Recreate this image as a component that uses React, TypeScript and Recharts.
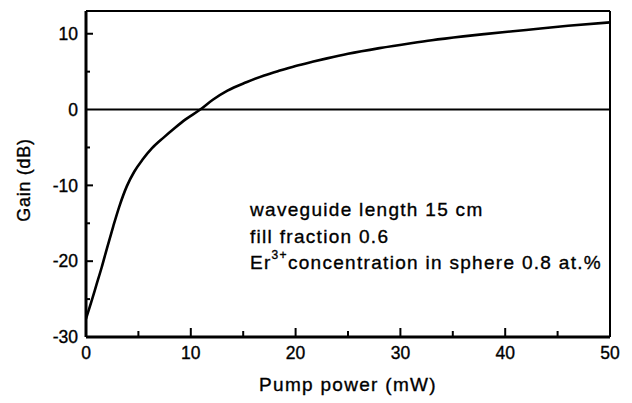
import { LineChart, Line, XAxis, YAxis, ReferenceLine, Customized } from "recharts"

// pump power (mW) vs. net gain (dB)
const powerMw = [0, 0.5, 1, 1.5, 2, 2.6, 3.2, 3.9, 4.6, 5.4, 6.3, 7.4, 8.5, 9.5, 10.9, 12.1, 13.5, 15.3, 17, 18.5, 20, 21.6, 23, 25, 28, 31, 33, 36, 38, 42, 46, 50]
const gainDb = [-27.6, -25.4, -23.1, -20.8, -18.3, -15.4, -12.7, -10.1, -8.2, -6.6, -5.1, -3.7, -2.4, -1.3, 0, 1.3, 2.5, 3.6, 4.5, 5.15, 5.75, 6.3, 6.75, 7.35, 8.1, 8.75, 9.15, 9.65, 9.95, 10.5, 11.05, 11.5]

// every 5 units; multiples of 10 get a label and a longer mark
const xTicks = [0, 5, 10, 15, 20, 25, 30, 35, 40, 45, 50]
const yTicks = [-30, -25, -20, -15, -10, -5, 0, 5, 10]

const notes = ["waveguide length 15 cm", "fill fraction 0.6"]

const data = powerMw.map((p, i) => ({ power: p, gain: gainDb[i] }))

const font = "'Liberation Sans', Arial, sans-serif"
const ink = { stroke: "#000", strokeWidth: 2 }
const labelStyle = { fontFamily: font, fontSize: 17.5, fill: "#000", stroke: "#000", strokeWidth: 0.35 }
const X_GAP = 10
const Y_GAP = 8

const isMajor = (v: number) => v % 10 === 0

function XTick({ x, y, payload }: any) {
  const v = payload.value
  const axisY = y - X_GAP
  const inner = v > 0 && v < 50
  return (
    <g>
      {inner && <line x1={x} x2={x} y1={axisY} y2={axisY - (isMajor(v) ? 9 : 6)} {...ink} />}
      {isMajor(v) && (
        <text x={x} y={y} dy="0.71em" textAnchor="middle" {...labelStyle}>
          {v}
        </text>
      )}
    </g>
  )
}

function YTick({ x, y, payload }: any) {
  const v = payload.value
  const axisX = x + Y_GAP
  const inner = v > -30 && v !== 0
  return (
    <g>
      {inner && <line x1={axisX} x2={axisX + (isMajor(v) ? 7 : 4)} y1={y} y2={y} {...ink} />}
      {isMajor(v) && (
        <text x={x} y={y} dy="0.355em" textAnchor="end" {...labelStyle}>
          {v}
        </text>
      )}
    </g>
  )
}

const NoLabel = () => <g />

function Annotations() {
  return (
    <g fontFamily={font} fill="#000" stroke="#000" strokeWidth={0.35}>
      <text x={24} y={180} fontSize={18} letterSpacing={0.7} textAnchor="middle" transform="rotate(-90 24 180)" dy="0.35em">
        Gain (dB)
      </text>
      <text x={348} y={391} fontSize={19} letterSpacing={1.3} textAnchor="middle">
        Pump power (mW)
      </text>
      {notes.map((t, i) => (
        <text key={t} x={250} y={216 + i * 27} fontSize={19} letterSpacing={1.3}>
          {t}
        </text>
      ))}
      <text x={250} y={269} fontSize={19} letterSpacing={1.3}>
        Er
        <tspan fontSize={12} dy={-10}>3+</tspan>
        <tspan dy={10}>concentration in sphere 0.8 at.%</tspan>
      </text>
    </g>
  )
}

export default function App() {
  return (
    <div style={{ position: "absolute", left: 0, top: 0, background: "#fff" }}>
      <LineChart width={632} height={403} data={data} margin={{ top: 10, right: 21, bottom: 12, left: 26 }}>
        <XAxis
          dataKey="power"
          type="number"
          domain={[0, 50]}
          ticks={xTicks}
          interval={0}
          allowDataOverflow
          height={54}
          tickSize={0}
          tickMargin={X_GAP}
          tick={XTick}
          tickLine={false}
          axisLine={{ stroke: "#000", strokeWidth: 3 }}
        />
        <XAxis xAxisId="top" orientation="top" type="number" domain={[0, 50]} height={1} tick={NoLabel} tickLine={false} axisLine={ink} />
        <YAxis
          type="number"
          domain={[-30, 13]}
          ticks={yTicks}
          interval={0}
          allowDataOverflow
          width={60}
          tickSize={0}
          tickMargin={Y_GAP}
          tick={YTick}
          tickLine={false}
          axisLine={{ stroke: "#000", strokeWidth: 3 }}
        />
        <YAxis yAxisId="right" orientation="right" type="number" domain={[-30, 13]} width={1} tick={NoLabel} tickLine={false} axisLine={ink} />
        <ReferenceLine y={0} stroke="#000" strokeWidth={2} />
        <Line type="monotone" dataKey="gain" stroke="#000" strokeWidth={2.6} dot={false} isAnimationActive={false} />
        <Customized component={Annotations} />
      </LineChart>
    </div>
  )
}
